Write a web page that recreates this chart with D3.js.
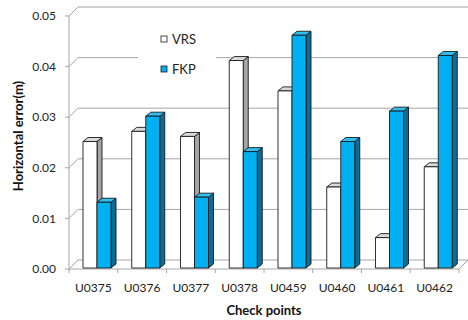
<!DOCTYPE html>
<html lang="en">
<head>
  <meta charset="UTF-8">
  <title>Horizontal error by check point</title>
  <script src="https://d3js.org/d3.v7.min.js"></script>
  <style>
    body { margin: 0; background: #fff; }
    svg { font-family: Lato, "Open Sans", sans-serif; }
    .tick-label { font-size: 12px; fill: #222; }
    .title { font-size: 13px; font-weight: bold; fill: #111; }
    .grid { stroke: #a6a6a6; stroke-width: 1; fill: none; }
    .bar { stroke: #1a1a1a; stroke-width: 0.9; stroke-linejoin: round; }
  </style>
</head>
<body>
  <svg width="468" height="320"></svg>

  <script>
    const categories = ["U0375", "U0376", "U0377", "U0378", "U0459", "U0460", "U0461", "U0462"];
    const seriesNames = ["VRS", "FKP"];
    const vrs = [0.025, 0.027, 0.026, 0.041, 0.035, 0.016, 0.006, 0.020];
    const fkp = [0.013, 0.030, 0.014, 0.023, 0.046, 0.025, 0.031, 0.042];
    const yTicks = [0, 0.01, 0.02, 0.03, 0.04, 0.05];

    const colors = {
      VRS: {front: "#ffffff", side: "#a5a5a5", top: "#d9d9d9"},
      FKP: {front: "#00b0f0", side: "#0b6d96", top: "#2fc0f2"}
    };

    const svg = d3.select("svg");

    // plot frame (front-left corner of the floor) and 3D depth offset
    const left = 69, right = 459;
    const depth = {dx: 9, dy: -9};

    const x = d3.scaleBand().domain(categories).range([left, right]);
    const xs = d3.scaleBand().domain(seriesNames)
      .range([0, x.bandwidth()]).paddingInner(0).paddingOuter(0.74).align(0.675);
    const y = d3.scaleLinear().domain([0, 0.05]).range([269, 16]);

    // back wall gridlines + left wall diagonals
    const g = svg.append("g");
    yTicks.forEach(t => {
      g.append("line").attr("class", "grid")
        .attr("x1", left).attr("y1", y(t))
        .attr("x2", left + depth.dx).attr("y2", y(t) + depth.dy);
      if (t > 0) {
        g.append("line").attr("class", "grid")
          .attr("x1", left + depth.dx).attr("y1", y(t) + depth.dy)
          .attr("x2", 468).attr("y2", y(t) + depth.dy);
      }
    });
    // floor
    g.append("path").attr("class", "grid")
      .attr("d", `M${left},${y(0)}L${right},${y(0)}L${right + depth.dx},${y(0) + depth.dy}`
        + `M${left + depth.dx},${y(0) + depth.dy}L${right + depth.dx},${y(0) + depth.dy}`);

    // legend box (covers the gridline behind it)
    const legend = svg.append("g");
    legend.append("rect").attr("x", 138).attr("y", 22).attr("width", 78).attr("height", 64)
      .attr("fill", "#fff");
    seriesNames.forEach((s, i) => {
      const ly = 39 + i * 30;
      legend.append("rect").attr("x", 161).attr("y", ly - 3).attr("width", 6).attr("height", 6)
        .attr("fill", colors[s].front).attr("stroke", "#1a1a1a").attr("stroke-width", 0.8);
      legend.append("text").attr("class", "tick-label").attr("x", 172).attr("y", ly)
        .attr("dy", "0.35em").style("font-size", "13px").text(s);
    });

    // value axis (front-left)
    const axis = svg.append("g");
    axis.append("line").attr("class", "grid")
      .attr("x1", left).attr("x2", left).attr("y1", y(0.05)).attr("y2", y(0));
    yTicks.forEach(t => {
      axis.append("line").attr("class", "grid")
        .attr("x1", left - 4).attr("x2", left).attr("y1", y(t)).attr("y2", y(t));
      axis.append("text").attr("class", "tick-label")
        .attr("x", left - 13).attr("y", y(t)).attr("dy", "0.35em")
        .attr("text-anchor", "end").text(t.toFixed(2));
    });

    // category ticks and labels
    d3.range(categories.length + 1).forEach(i => {
      const cx = left + i * x.step();
      axis.append("line").attr("class", "grid")
        .attr("x1", cx).attr("x2", cx).attr("y1", y(0)).attr("y2", y(0) + 4);
    });
    categories.forEach(c => {
      axis.append("text").attr("class", "tick-label")
        .attr("x", x(c) + x.bandwidth() / 2).attr("y", 288).attr("dy", "0.35em")
        .attr("text-anchor", "middle").text(c);
    });

    // 3D bars: front face, side face, top face
    const bd = {dx: 5, dy: -4};
    const base = y(0) - 1;
    const bars = svg.append("g");
    categories.forEach((c, i) => {
      const vals = {VRS: vrs[i], FKP: fkp[i]};
      seriesNames.forEach(s => {
        const x0 = x(c) + xs(s), x1 = x0 + xs.bandwidth();
        const top = y(vals[s]) - 1;
        const col = colors[s];
        bars.append("path").attr("class", "bar").attr("fill", col.side)
          .attr("d", `M${x1},${base}L${x1 + bd.dx},${base + bd.dy}L${x1 + bd.dx},${top + bd.dy}L${x1},${top}Z`);
        bars.append("path").attr("class", "bar").attr("fill", col.top)
          .attr("d", `M${x0},${top}L${x0 + bd.dx},${top + bd.dy}L${x1 + bd.dx},${top + bd.dy}L${x1},${top}Z`);
        bars.append("rect").attr("class", "bar").attr("fill", col.front)
          .attr("x", x0).attr("y", top).attr("width", x1 - x0).attr("height", base - top);
      });
    });

    // axis titles
    svg.append("text").attr("class", "title")
      .attr("x", x(categories[0]) + (right - left) / 2).attr("y", 310).attr("dy", "0.35em")
      .attr("text-anchor", "middle").text("Check points");
    svg.append("text").attr("class", "title")
      .attr("transform", "translate(18,136) rotate(-90)").attr("dy", "0.35em")
      .attr("text-anchor", "middle").text("Horizontal error(m)");
  </script>
</body>
</html>
